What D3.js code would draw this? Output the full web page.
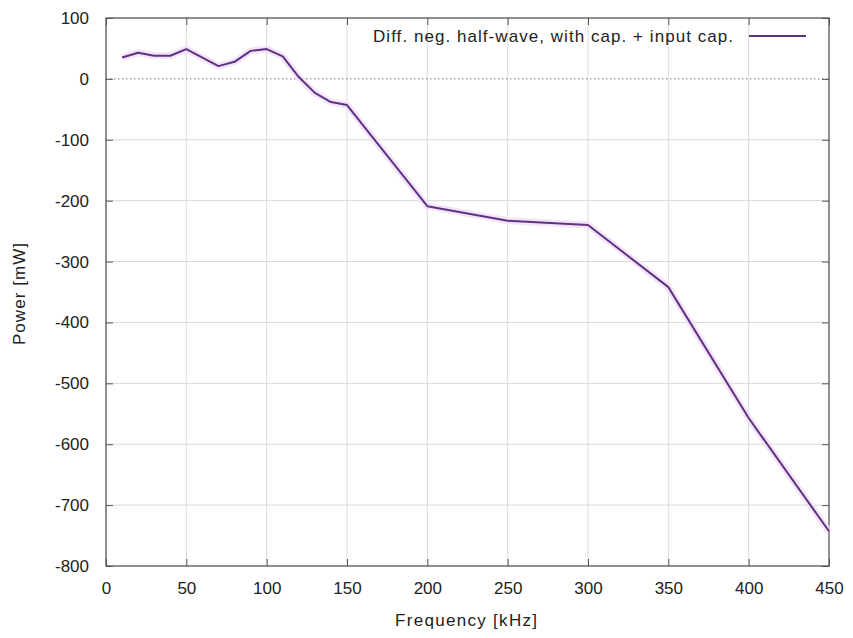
<!DOCTYPE html>
<html>
<head>
<meta charset="utf-8">
<script src="https://cdn.jsdelivr.net/npm/d3@7"></script>
<style>
  html, body { margin: 0; padding: 0; background: #fff; }
  svg { display: block; }
  text { font-family: "Liberation Sans", Arial, sans-serif; fill: #222; }
</style>
</head>
<body>
<svg id="chart" width="853" height="638"></svg>
<script>
// Measured power versus frequency
const frequency = [10, 20, 30, 40, 50, 60, 70, 80, 90, 100, 110, 120, 130, 140, 150, 200, 250, 300, 350, 400, 450];
const power     = [35, 43, 38, 38, 49, 35, 21, 28, 46, 49, 37, 3, -23, -38, -43, -209, -233, -240, -342, -557, -743];
const xTicks = [0, 50, 100, 150, 200, 250, 300, 350, 400, 450];
const yTicks = [100, 0, -100, -200, -300, -400, -500, -600, -700, -800];
const seriesName = "Diff. neg. half-wave, with cap. + input cap.";
const xTitle = "Frequency [kHz]";
const yTitle = "Power [mW]";

const svg = d3.select("#chart");
const plotLeft = 106, plotRight = 829, plotTop = 18, plotBottom = 566;
const fontSize = 17;

const x = d3.scaleLinear().domain([0, 450]).range([plotLeft, plotRight]);
const y = d3.scaleLinear().domain([-800, 100]).range([plotBottom, plotTop]);
const plain = d => String(d);

// grid
const grid = svg.append("g");
grid.selectAll("line.gx").data(xTicks.filter(d => d > 0 && d < 450)).join("line")
  .attr("x1", d => x(d)).attr("x2", d => x(d)).attr("y1", plotTop).attr("y2", plotBottom)
  .attr("stroke", "#dadada").attr("stroke-width", 1);
grid.selectAll("line.gy").data(yTicks.filter(d => d < 100 && d > -800 && d !== 0)).join("line")
  .attr("x1", plotLeft).attr("x2", plotRight).attr("y1", d => y(d)).attr("y2", d => y(d))
  .attr("stroke", "#dadada").attr("stroke-width", 1);

// zero axis, dotted
svg.append("line")
  .attr("x1", plotLeft).attr("x2", plotRight).attr("y1", y(0)).attr("y2", y(0))
  .attr("stroke", "#777").attr("stroke-width", 1).attr("stroke-dasharray", "1.5,2.5");

// axes with inward ticks on all four sides
const tickLen = 7;
const axB = svg.append("g").attr("transform", `translate(0,${plotBottom})`)
  .call(d3.axisBottom(x).tickValues(xTicks).tickSize(-tickLen).tickPadding(16).tickFormat(plain));
const axT = svg.append("g").attr("transform", `translate(0,${plotTop})`)
  .call(d3.axisTop(x).tickValues(xTicks).tickSize(-tickLen).tickFormat(""));
const axL = svg.append("g").attr("transform", `translate(${plotLeft},0)`)
  .call(d3.axisLeft(y).tickValues(yTicks).tickSize(-tickLen).tickPadding(17).tickFormat(plain));
const axR = svg.append("g").attr("transform", `translate(${plotRight},0)`)
  .call(d3.axisRight(y).tickValues(yTicks).tickSize(-tickLen).tickFormat(""));

[axB, axT, axL, axR].forEach(a => {
  a.select(".domain").remove();
  a.selectAll(".tick line").attr("stroke", "#555").attr("stroke-width", 1);
  a.selectAll(".tick text").attr("font-size", fontSize).attr("fill", "#222")
    .attr("font-family", "'Liberation Sans', Arial, sans-serif");
});

// frame
svg.append("rect")
  .attr("x", plotLeft).attr("y", plotTop).attr("width", plotRight - plotLeft).attr("height", plotBottom - plotTop)
  .attr("fill", "none").attr("stroke", "#555").attr("stroke-width", 1.3);

// data line
const pts = frequency.map((f, i) => [f, power[i]]);
const line = d3.line().x(d => x(d[0])).y(d => y(d[1]));
svg.append("path").datum(pts).attr("d", line)
  .attr("fill", "none").attr("stroke", "#f1ddf5").attr("stroke-width", 7)
  .attr("stroke-linejoin", "round").attr("opacity", 0.8);
svg.append("path").datum(pts).attr("d", line)
  .attr("fill", "none").attr("stroke", "#5f3384").attr("stroke-width", 2)
  .attr("stroke-linejoin", "round");

// legend
svg.append("text").attr("x", 373).attr("y", 42)
  .attr("font-size", fontSize).attr("textLength", 360).attr("lengthAdjust", "spacing")
  .text(seriesName);
svg.append("line").attr("x1", 749).attr("x2", 806).attr("y1", 36).attr("y2", 36)
  .attr("stroke", "#5f3384").attr("stroke-width", 2);

// axis titles
svg.append("text").attr("x", 395).attr("y", 626)
  .attr("font-size", fontSize).attr("textLength", 142).attr("lengthAdjust", "spacing")
  .text(xTitle);
svg.append("text").attr("transform", "translate(25,345) rotate(-90)")
  .attr("font-size", fontSize).attr("textLength", 102).attr("lengthAdjust", "spacing")
  .text(yTitle);
</script>
</body>
</html>
